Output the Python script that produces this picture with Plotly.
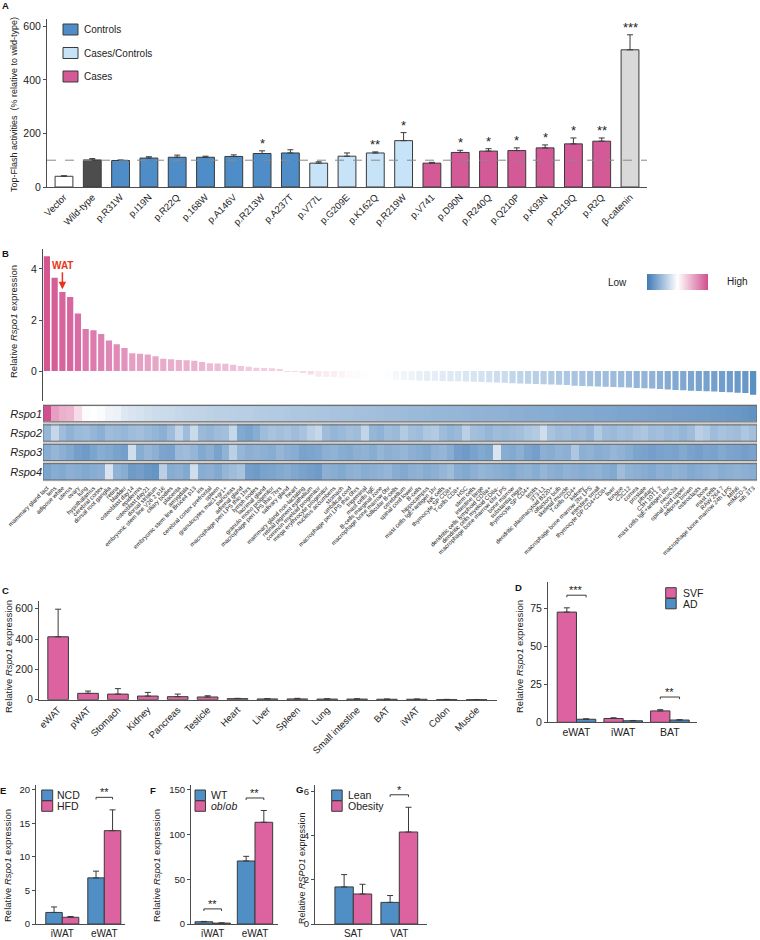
import plotly.graph_objects as go

W, H = 760, 940


def fx(px):
    return px / W


def fy(py):
    return 1 - py / H


FONT = "Arial, Liberation Sans, sans-serif"
AX = "#4d4d4d"
EDGE = "#3a3a3a"
TXT = "#222222"
PINK = "#dc62a0"
BLUE = "#4f8fc6"

# ---------------- Panel A data ----------------
a_labels = ["Vector", "Wild-type", "p.R31W", "p.I19N", "p.R22Q", "p.168W", "p.A146V",
            "p.R213W", "p.A237T", "p.V77L", "p.G209E", "p.K162Q", "p.R219W", "p.V741",
            "p.D90N", "p.R240Q", "p.Q210P", "p.K93N", "p.R219Q", "p.R2Q", "β-catenin"]
a_values = [40, 101, 99, 108, 111, 111, 114, 125, 127, 89, 115, 127, 173, 89,
            129, 134, 136, 146, 161, 171, 512]
a_errors = [2, 5, 2, 5, 8, 4, 6, 10, 12, 5, 12, 4, 30, 3, 8, 9, 10, 11, 22, 12, 56]
a_groups = (["Vector", "Wild-type"] + ["Controls"] * 7 + ["Cases/Controls"] * 4
            + ["Cases"] * 7 + ["β-catenin"])
a_sig = ["", "", "", "", "", "", "", "*", "", "", "", "**", "*", "",
         "*", "*", "*", "*", "*", "**", "***"]
a_ref_level = 100
a_legend = ["Controls", "Cases/Controls", "Cases"]

# ---------------- Panel B data ----------------
b_tissues = [
    "mammary gland lact", "lens", "adipose white", "uterus", "ovary", "lung", "hypothalamus",
    "cerebral cortex", "dorsal root ganglia", "retina", "bladder", "osteoblast day14",
    "epidermis", "osteoblast day21", "dorsal striatum", "embryonic stem line V26 2 p16",
    "ciliary bodies", "placenta", "amygdala", "embryonic stem line Bruce4 p13", "iris",
    "cerebral cortex prefrontal", "spleen", "granulocytes mac1+gr1+", "pancreas",
    "adrenal gland", "macrophage peri LPS thio 1hrs", "lymph nodes", "lacrimal gland",
    "granulo mono progenitor", "macrophage peri LPS thio 7hrs", "salivary gland", "heart",
    "mammary gland non-lactating", "retinal pigment epithelium", "common myeloid progenitor",
    "mega erythrocyte progenitor", "nucleus accumbens", "stomach", "umbilical cord",
    "macrophage peri LPS thio 0hrs", "trigeminal", "mast cells IgE", "B-cells marginal zone",
    "macrophage bone marrow 0hr", "follicular B-cells", "cerebellum", "spinal cord lower",
    "B-cells", "hippocampus", "mast cells IgE+antigen 1hr", "NK cells", "thymocyte SP CD8+",
    "T-cells CD8+", "HSC", "stem cells", "intestine large", "dendritic cells lymphoid CD8a+",
    "dendritic cells myeloid CD8a-", "macrophage bone marrow 6hr LPS", "bone marrow",
    "substantia nigra", "thymocyte SP CD4+", "testis", "3T3-L1", "dendritic plasmacytoid B220+",
    "olfactory bulb", "skeletal muscle", "T-cells CD4+", "kidney",
    "macrophage bone marrow 2hr LPS", "intestine small", "thymocyte DP CD4+CD8+", "liver",
    "tongue", "C2C12", "cornea", "prostate", "pituitary", "C3H 10T1 2",
    "mast cells IgE+antigen 6hr", "neuro2a", "spinal cord upper", "adipose brown",
    "osteoclasts", "bone", "mast cells", "RAW 264 7", "macrophage bone marrow 24h LPS",
    "MIN6", "mIMCD-3", "nih 3T3"]
b_values = [
    4.5, 3.65, 3.1, 2.9, 2.25, 1.65, 1.6, 1.45, 1.2, 1.05,
    0.9, 0.7, 0.68, 0.65, 0.58, 0.48, 0.46, 0.43, 0.42, 0.4,
    0.36, 0.31, 0.3, 0.29, 0.25, 0.2, 0.17, 0.13, 0.12, 0.11,
    0.08, -0.02, -0.03, -0.07, -0.13, -0.22, -0.23, -0.24, -0.26, -0.28,
    -0.29, -0.3, -0.31, -0.31, -0.32, -0.34, -0.35, -0.36, -0.37, -0.38,
    -0.38, -0.39, -0.4, -0.4, -0.41, -0.42, -0.43, -0.44, -0.45, -0.46,
    -0.48, -0.49, -0.5, -0.51, -0.52, -0.53, -0.54, -0.55, -0.57, -0.58,
    -0.59, -0.6, -0.61, -0.62, -0.63, -0.64, -0.66, -0.67, -0.68, -0.7,
    -0.72, -0.74, -0.75, -0.77, -0.78, -0.79, -0.8, -0.82, -0.83, -0.85,
    -0.86, -0.93]
b_genes = ["Rspo1", "Rspo2", "Rspo3", "Rspo4"]
b_rspo1 = [
    1.0, 0.55, 0.45, 0.42, 0.2, 0.02, 0.0, -0.03, -0.08, -0.1,
    -0.17, -0.2, -0.22, -0.24, -0.26, -0.27, -0.28, -0.3, -0.31, -0.32,
    -0.33, -0.34, -0.35, -0.35, -0.36, -0.37, -0.37, -0.38, -0.39, -0.4,
    -0.4, -0.41, -0.42, -0.42, -0.43, -0.44, -0.44, -0.45, -0.46, -0.46,
    -0.47, -0.48, -0.48, -0.49, -0.5, -0.5, -0.51, -0.52, -0.52, -0.53,
    -0.54, -0.54, -0.55, -0.55, -0.56, -0.57, -0.57, -0.58, -0.58, -0.59,
    -0.6, -0.6, -0.61, -0.61, -0.62, -0.62, -0.63, -0.64, -0.64, -0.65,
    -0.65, -0.66, -0.66, -0.67, -0.68, -0.68, -0.69, -0.69, -0.7, -0.71,
    -0.71, -0.72, -0.72, -0.73, -0.74, -0.74, -0.75, -0.76, -0.77, -0.78,
    -0.79, -0.82]
b_rspo2 = [
    -0.55, -0.3, -0.5, -0.58, -0.52, -0.5, -0.55, -0.6, -0.5, -0.52,
    -0.55, -0.5, -0.48, -0.52, -0.56, -0.6, -0.5, -0.32, -0.5, -0.28,
    -0.52, -0.55, -0.5, -0.48, -0.3, -0.65, -0.68, -0.62, -0.5, -0.45,
    -0.48, -0.45, -0.5, -0.45, -0.35, -0.3, -0.5, -0.55, -0.52, -0.48,
    -0.5, -0.32, -0.55, -0.58, -0.5, -0.52, -0.4, -0.48, -0.5, -0.42,
    -0.4, -0.5, -0.55, -0.52, -0.35, -0.48, -0.5, -0.55, -0.5, -0.52,
    -0.5, -0.48, -0.42, -0.4, -0.25, -0.45, -0.5, -0.48, -0.52, -0.5,
    -0.55, -0.4, -0.5, -0.52, -0.48, -0.5, -0.45, -0.42, -0.5, -0.48,
    -0.52, -0.5, -0.55, -0.5, -0.35, -0.4, -0.5, -0.45, -0.48, -0.5,
    -0.42, -0.48]
b_rspo3 = [
    -0.62, -0.55, -0.6, -0.65, -0.72, -0.75, -0.68, -0.62, -0.65, -0.7,
    -0.72, -0.25, -0.62, -0.55, -0.6, -0.68, -0.7, -0.52, -0.5, -0.55,
    -0.65, -0.6, -0.7, -0.58, -0.35, -0.55, -0.6, -0.58, -0.6, -0.62,
    -0.55, -0.6, -0.62, -0.7, -0.68, -0.66, -0.6, -0.58, -0.62, -0.64,
    -0.6, -0.58, -0.62, -0.55, -0.6, -0.58, -0.55, -0.6, -0.62, -0.65,
    -0.58, -0.55, -0.62, -0.72, -0.75, -0.7, -0.65, -0.68, -0.2, -0.62,
    -0.65, -0.6, -0.68, -0.72, -0.6, -0.62, -0.58, -0.6, -0.42, -0.6,
    -0.58, -0.62, -0.6, -0.55, -0.58, -0.62, -0.68, -0.7, -0.72, -0.7,
    -0.68, -0.7, -0.65, -0.7, -0.72, -0.68, -0.7, -0.65, -0.68, -0.7,
    -0.72, -0.7]
b_rspo4 = [
    -0.68, -0.62, -0.65, -0.6, -0.62, -0.65, -0.62, -0.6, -0.2, -0.58,
    -0.62, -0.75, -0.72, -0.78, -0.8, -0.35, -0.62, -0.6, -0.65, -0.25,
    -0.62, -0.6, -0.65, -0.55, -0.5, -0.45, -0.72, -0.75, -0.7, -0.68,
    -0.65, -0.62, -0.66, -0.7, -0.72, -0.75, -0.6, -0.62, -0.65, -0.6,
    -0.58, -0.62, -0.6, -0.58, -0.55, -0.62, -0.65, -0.6, -0.58, -0.62,
    -0.6, -0.55, -0.5, -0.62, -0.65, -0.6, -0.55, -0.58, -0.6, -0.62,
    -0.65, -0.6, -0.58, -0.62, -0.55, -0.6, -0.62, -0.58, -0.6, -0.62,
    -0.6, -0.58, -0.62, -0.65, -0.5, -0.58, -0.6, -0.62, -0.65, -0.6,
    -0.62, -0.58, -0.6, -0.65, -0.62, -0.6, -0.58, -0.62, -0.6, -0.58,
    -0.6, -0.62]
b_highlight = "adipose white"

# ---------------- Panel C data ----------------
c_labels = ["eWAT", "pWAT", "Stomach", "Kidney", "Pancreas", "Testicle", "Heart", "Liver",
            "Spleen", "Lung", "Small intestine", "BAT", "iWAT", "Colon", "Muscle"]
c_values = [415, 42, 37, 24, 20, 18, 7, 5, 5, 4, 4, 3, 3, 1.5, 1]
c_errors = [182, 15, 36, 24, 17, 8, 2, 2, 4, 2, 2, 1, 1, 0.5, 0.5]

# ---------------- Panel D data ----------------
d_groups = ["eWAT", "iWAT", "BAT"]
d_names = ["SVF", "AD"]
d_svf = [72.5, 2.5, 7.5]
d_svf_err = [2.8, 0.5, 0.8]
d_ad = [2.0, 1.0, 1.5]
d_ad_err = [0.3, 0.2, 0.2]
d_sig = {"eWAT": "***", "BAT": "**"}

# ---------------- Panel E data ----------------
e_groups = ["iWAT", "eWAT"]
e_names = ["NCD", "HFD"]
e_ncd = [1.72, 6.87]
e_ncd_err = [0.82, 1.0]
e_hfd = [1.0, 13.9]
e_hfd_err = [0.12, 3.1]
e_sig = {"eWAT": "**"}

# ---------------- Panel F data ----------------
f_groups = ["iWAT", "eWAT"]
f_names = ["WT", "<i>ob</i>/<i>ob</i>"]
f_wt = [2.5, 70.5]
f_wt_err = [0.4, 5.2]
f_ob = [1.0, 113.8]
f_ob_err = [0.2, 13.2]
f_sig = {"iWAT": "**", "eWAT": "**"}

# ---------------- Panel G data ----------------
g_groups = ["SAT", "VAT"]
g_names = ["Lean", "Obesity"]
g_lean = [1.68, 0.98]
g_lean_err = [0.56, 0.31]
g_obese = [1.36, 4.17]
g_obese_err = [0.44, 1.12]
g_sig = {"VAT": "*"}

fig = go.Figure()
shapes = []
annotations = []


def err(arr):
    return dict(type="data", array=arr, arrayminus=[0] * len(arr), symmetric=False,
                color=EDGE, thickness=1, width=3)


# ---- A ----
a_style = {"Vector": "#ffffff", "Wild-type": "#4d4d4d", "Controls": "#4f8dc8",
           "Cases/Controls": "#c6e3f7", "Cases": "#d35a97", "β-catenin": "#d9d9d9"}
A_W = 0.63
for g in dict.fromkeys(a_groups):
    idx = [i for i, gg in enumerate(a_groups) if gg == g]
    fig.add_trace(go.Bar(
        x=[a_labels[i] for i in idx], y=[a_values[i] for i in idx],
        error_y=err([a_errors[i] for i in idx]), width=A_W, offset=-A_W / 2,
        marker=dict(color=a_style[g], line=dict(color=EDGE, width=1)),
        name=g, showlegend=False, xaxis="x", yaxis="y"))
for i, s in enumerate(a_sig):
    if s:
        annotations.append(dict(x=a_labels[i], y=a_values[i] + a_errors[i], xref="x", yref="y",
                                text=s, showarrow=False, xanchor="center", yanchor="bottom",
                                yshift=-2, font=dict(size=13, color=TXT)))
shapes.append(dict(type="line", xref="x domain", yref="y", x0=0, x1=1, y0=a_ref_level,
                   y1=a_ref_level, line=dict(color="#8a8a8a", width=1, dash="dash")))

# ---- B bars ----
b_bar_scale = [[0, "#5a8fc2"], [0.037, "#84aad2"], [0.073, "#b0cae3"], [0.101, "#e4edf6"],
               [0.114, "#ffffff"], [0.138, "#f5e0ea"], [0.193, "#f1cfe0"], [0.248, "#e9b0cd"],
               [0.358, "#e08cb8"], [0.541, "#db70a7"], [1, "#d45590"]]
fig.add_trace(go.Bar(x=b_tissues, y=b_values, width=0.8, offset=-0.4,
                     marker=dict(color=b_values, colorscale=b_bar_scale, cmin=min(b_values),
                                 cmax=max(b_values), line=dict(width=0)),
                     showlegend=False, xaxis="x2", yaxis="y2"))
hi = b_tissues.index(b_highlight)
annotations.append(dict(x=b_highlight, y=b_values[hi] + 0.1, xref="x2", yref="y2",
                        text="<b>WAT</b>", showarrow=True, ax=0, ay=-24, arrowhead=2,
                        arrowsize=1, arrowwidth=1.5, arrowcolor="#e8341c",
                        font=dict(size=10, color="#e8341c")))

# ---- B heatmap ----
heat_scale = [[0, "#3f7ab6"], [0.5, "#ffffff"], [1, "#d14f8e"]]
fig.add_trace(go.Heatmap(
    z=[b_rspo1, b_rspo2, b_rspo3, b_rspo4], x=b_tissues, y=b_genes, colorscale=heat_scale,
    zmin=-1, zmax=1, ygap=3, xaxis="x3", yaxis="y3", hoverinfo="skip",
    colorbar=dict(orientation="h", x=fx(677.5), y=fy(282), xanchor="center", yanchor="middle",
                  len=81, lenmode="pixels", thickness=16, thicknessmode="pixels",
                  showticklabels=False, ticks="", outlinewidth=0)))
nb = len(b_tissues)
shapes.append(dict(type="rect", xref="x3", yref="y3", x0=-0.5, x1=nb - 0.5, y0=-0.5,
                   y1=len(b_genes) - 0.5, fillcolor="#d0d0d0", line=dict(width=0),
                   layer="below"))
for k in range(len(b_genes)):
    shapes.append(dict(type="rect", xref="x3", yref="y3", x0=-0.5, x1=nb - 0.5, y0=k - 0.42,
                       y1=k + 0.42, line=dict(color="#6a6a6a", width=1)))
annotations.append(dict(xref="paper", yref="paper", x=fx(617), y=fy(282), text="Low",
                        showarrow=False, xanchor="center", yanchor="middle",
                        font=dict(size=10, color=TXT)))
annotations.append(dict(xref="paper", yref="paper", x=fx(737), y=fy(281), text="High",
                        showarrow=False, xanchor="center", yanchor="middle",
                        font=dict(size=10, color=TXT)))

# ---- C ----
C_W = 0.69
fig.add_trace(go.Bar(x=c_labels, y=c_values, error_y=err(c_errors), width=C_W, offset=-C_W / 2,
                     marker=dict(color=PINK, line=dict(color=EDGE, width=1)),
                     showlegend=False, xaxis="x4", yaxis="y4"))


# ---- grouped panels ----
def grouped(xa, ya, groups, v1, e1, v2, e2, c1, c2, w, sig, ytop):
    fig.add_trace(go.Bar(x=groups, y=v1, error_y=err(e1), width=w, offset=-w,
                         marker=dict(color=c1, line=dict(color=EDGE, width=1)),
                         showlegend=False, xaxis=xa, yaxis=ya))
    fig.add_trace(go.Bar(x=groups, y=v2, error_y=err(e2), width=w, offset=0,
                         marker=dict(color=c2, line=dict(color=EDGE, width=1)),
                         showlegend=False, xaxis=xa, yaxis=ya))
    for gname, s in sig.items():
        i = groups.index(gname)
        yb = max(v1[i] + e1[i], v2[i] + e2[i]) + 0.09 * ytop
        d = 0.015 * ytop
        x0, x1 = i - w / 2, i + w / 2
        shapes.append(dict(type="path", xref=xa, yref=ya,
                           path=f"M {x0},{yb - d} L {x0},{yb} L {x1},{yb} L {x1},{yb - d}",
                           line=dict(color=EDGE, width=1)))
        annotations.append(dict(x=i, y=yb, xref=xa, yref=ya, text=s, showarrow=False,
                                xanchor="center", yanchor="bottom", yshift=-3,
                                font=dict(size=11, color=TXT)))


D_TOP, E_TOP, F_TOP, G_TOP = 92.5, 20.7, 155.5, 6.3
grouped("x5", "y5", d_groups, d_svf, d_svf_err, d_ad, d_ad_err, PINK, BLUE, 0.413, d_sig, D_TOP)
grouped("x6", "y6", e_groups, e_ncd, e_ncd_err, e_hfd, e_hfd_err, BLUE, PINK, 0.393, e_sig, E_TOP)
grouped("x7", "y7", f_groups, f_wt, f_wt_err, f_ob, f_ob_err, BLUE, PINK, 0.418, f_sig, F_TOP)
grouped("x8", "y8", g_groups, g_lean, g_lean_err, g_obese, g_obese_err, BLUE, PINK, 0.4, g_sig,
        G_TOP)


def legend(entries, x_px, y_px, pw, ph, step, tx_px, size):
    for k, (name, color) in enumerate(entries):
        y0 = y_px + k * step
        shapes.append(dict(type="rect", xref="paper", yref="paper", x0=fx(x_px),
                           x1=fx(x_px + pw), y0=fy(y0 + ph), y1=fy(y0), fillcolor=color,
                           line=dict(color=EDGE, width=1)))
        annotations.append(dict(xref="paper", yref="paper", x=fx(tx_px), y=fy(y0 + ph / 2),
                                text=name, showarrow=False, xanchor="left", yanchor="middle",
                                font=dict(size=size, color=TXT)))


legend([(n, a_style[n]) for n in a_legend], 63, 24, 15, 11, 23.5, 82, 10)
legend(list(zip(d_names, [PINK, BLUE])), 665.7, 587.7, 10.5, 10.3, 10.8, 680.5, 10.5)
legend(list(zip(e_names, [BLUE, PINK])), 41.7, 790, 11, 10.5, 10.8, 54.5, 10.5)
legend(list(zip(f_names, [BLUE, PINK])), 195, 790, 10.5, 10.5, 10.8, 209, 10.5)
legend(list(zip(g_names, [BLUE, PINK])), 331.7, 790, 10.5, 10.5, 10.8, 345.5, 10.5)


# ---- titles & panel letters ----
def vtitle(text, x_px, y_px, size):
    annotations.append(dict(xref="paper", yref="paper", x=fx(x_px), y=fy(y_px), text=text,
                            textangle=-90, showarrow=False, xanchor="center", yanchor="middle",
                            font=dict(size=size, color=TXT)))


vtitle("Top-Flash activities  (% relative to wild-type)", 14, 105, 9)
vtitle("Relative <i>Rspo1</i> expression", 13, 322, 9.5)
vtitle("Relative <i>Rspo1</i> expression", 8, 657, 9.5)
vtitle("Relative <i>Rspo1</i> expression", 519, 657, 9.5)
vtitle("Relative <i>Rspo1</i> expression", 7, 866, 9.5)
vtitle("Relative <i>Rspo1</i> expression", 156, 866, 9.5)
vtitle("Relative <i>RSPO1</i> expression", 302, 868, 9)

for letter, (px, py) in {"A": (5, 5), "B": (5, 253), "C": (5, 590), "D": (518, 587),
                         "E": (3, 790), "F": (153, 790), "G": (299, 789)}.items():
    annotations.append(dict(xref="paper", yref="paper", x=fx(px), y=fy(py),
                            text=f"<b>{letter}</b>", showarrow=False, xanchor="center",
                            yanchor="middle", font=dict(size=9.5, color="#111")))


# ---- axes ----
def yax(top_px, bot_px, rng, tickvals, anchor, size=10.5):
    return dict(domain=[fy(bot_px), fy(top_px)], range=rng, tickvals=tickvals, showline=True,
                linecolor=AX, linewidth=1, ticks="outside", ticklen=3, tickcolor=AX,
                showgrid=False, zeroline=False, tickfont=dict(size=size, color=TXT),
                anchor=anchor, fixedrange=True, automargin=False)


def xax(l_px, r_px, rng, anchor, cats, angle=0, size=10, showline=True):
    return dict(domain=[fx(l_px), fx(r_px)], range=rng, type="category", categoryorder="array",
                categoryarray=cats, showline=showline, linecolor=AX, linewidth=1, ticks="",
                showgrid=False, zeroline=False, tickangle=angle, anchor=anchor,
                tickfont=dict(size=size, color=TXT), fixedrange=True, tickmode="linear",
                dtick=1, tick0=0, automargin=False)


fig.update_layout(
    template="none",
    width=W, height=H, margin=dict(l=0, r=0, t=0, b=0, pad=0), autosize=False,
    paper_bgcolor="white", plot_bgcolor="white", barmode="overlay", showlegend=False,
    font=dict(family=FONT, color=TXT),
    xaxis=xax(47, 647, [-0.6, len(a_labels) - 0.4], "y", a_labels, angle=-45, size=9.5),
    yaxis=yax(19, 187, [0, 627], [0, 200, 400, 600], "x"),
    xaxis2=dict(domain=[fx(43), fx(757)], range=[-0.5, nb - 0.5], type="category",
                categoryorder="array", categoryarray=b_tissues, visible=False, anchor="y2",
                fixedrange=True, automargin=False),
    yaxis2=yax(249, 400.7, [-1.16, 4.78], [0, 2, 4], "x2"),
    xaxis3=dict(xax(43, 757, [-0.5, nb - 0.5], "y3", b_tissues, angle=-45, size=6,
                    showline=False), ticklabelstandoff=1),
    yaxis3=dict(domain=[fy(481.5), fy(404)], range=[len(b_genes) - 0.5, -0.5],
                tickvals=b_genes, ticktext=[f"<i>{g}</i>" for g in b_genes], showline=False,
                ticks="", showgrid=False, zeroline=False, tickfont=dict(size=11, color=TXT),
                anchor="x3", fixedrange=True, type="category", automargin=False),
    xaxis4=xax(39, 497, [-0.64, len(c_labels) - 0.32], "y4", c_labels, angle=-45, size=9.5),
    yaxis4=yax(600.7, 699.7, [0, 653], [0, 200, 400, 600], "x4"),
    xaxis5=xax(548, 697, [-0.61, 2.58], "y5", d_groups, size=10.5),
    yaxis5=yax(581.7, 722.3, [0, D_TOP], [0, 25, 50, 75], "x5"),
    xaxis6=xax(36, 125, [-0.626, 1.493], "y6", e_groups, size=10),
    yaxis6=yax(785, 924, [0, E_TOP], [0, 5, 10, 15, 20], "x6", size=9.5),
    xaxis7=xax(191, 278, [-0.513, 1.544], "y7", f_groups, size=10),
    yaxis7=yax(785, 924, [0, F_TOP], [0, 50, 100, 150], "x7", size=9.5),
    xaxis8=xax(315, 427, [-0.833, 1.602], "y8", g_groups, size=10),
    yaxis8=yax(785, 924, [0, G_TOP], [0, 2, 4, 6], "x8", size=9.5),
    shapes=shapes, annotations=annotations,
)

# place the figure flush with the window's top-left corner (no default body margin)
fig.write_html("out.html", config={"displayModeBar": False},
               post_script="document.body.style.margin='0';document.body.style.overflow='hidden';")
